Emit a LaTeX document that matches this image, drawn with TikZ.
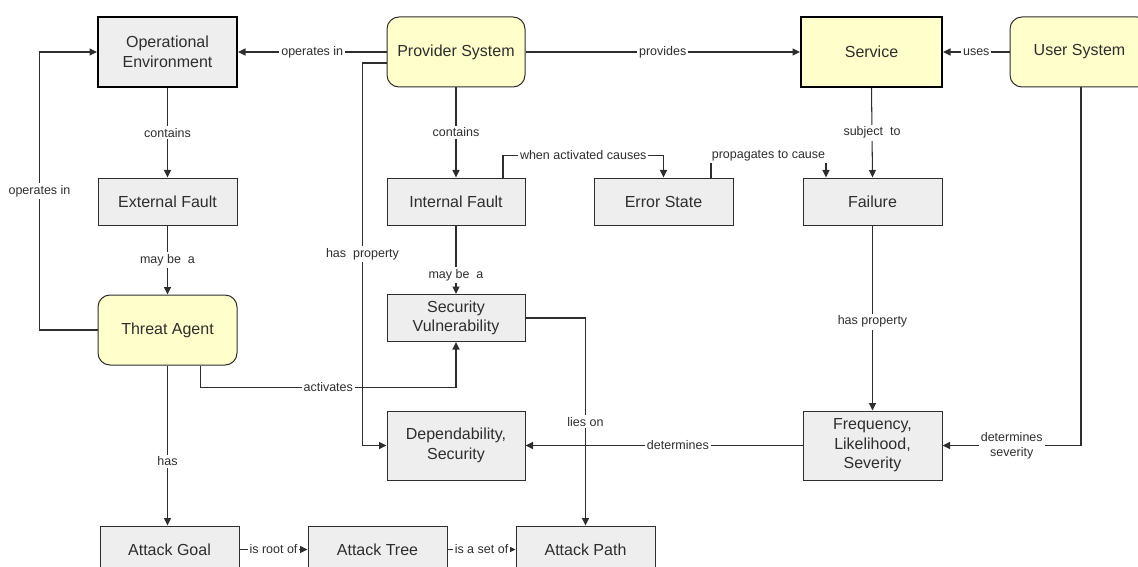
\documentclass[tikz,border=0pt]{standalone}
\usepackage{fontspec}
\setmainfont{Liberation Sans}
\usetikzlibrary{arrows.meta,calc}
\definecolor{ink}{HTML}{2E2E2E}
\definecolor{boxgray}{HTML}{EEEEEE}
\definecolor{sysyellow}{HTML}{FFFFCC}
\begin{document}
\begin{tikzpicture}[x=1pt,y=-1pt,
  box/.style={draw=ink,line width=1pt,fill=boxgray,text=ink,align=center,
    inner sep=2pt,font=\fontsize{16}{19.5}\selectfont},
  thickbox/.style={box,draw=black,line width=2pt},
  sysbox/.style={box,fill=sysyellow,rounded corners=12pt},
  conn/.style={draw=ink,line width=1.05pt,-{Triangle[length=7.5pt,width=7pt]}},
  lbl/.style={fill=white,text=ink,inner sep=2pt,align=center,
    font=\fontsize{12.5}{15}\selectfont}]
\useasboundingbox (0,0) rectangle (1138,567);
\clip (0,0) rectangle (1138,567);

% concepts
\node[thickbox,fill=boxgray,minimum width=139,minimum height=70] (OE) at (167.5,52) {Operational\\Environment};
\node[sysbox,minimum width=138,minimum height=70] (PS) at (456,52) {Provider System};
\node[thickbox,fill=sysyellow,minimum width=141,minimum height=70] (SE) at (871.5,52) {Service};
\node[sysbox,minimum width=139,minimum height=70] (US) at (1079.5,52) {User System};

\node[box,minimum width=139,minimum height=47] (EF) at (167.5,201.5) {External Fault};
\node[box,minimum width=138,minimum height=47] (IF) at (456,201.5) {Internal Fault};
\node[box,minimum width=139,minimum height=47] (ES) at (663.5,201.5) {Error State};
\node[box,minimum width=139,minimum height=47] (FA) at (872.5,201.5) {Failure};

\node[sysbox,minimum width=139,minimum height=70] (TA) at (167.5,330) {Threat Agent};
\node[box,minimum width=138,minimum height=47] (SV) at (456,318) {Security\\Vulnerability};

\node[box,minimum width=138,minimum height=69] (DS) at (456,445.5) {Dependability,\\Security};
\node[box,minimum width=139,minimum height=69] (FL) at (872.5,445.5) {Frequency,\\Likelihood,\\Severity};

\node[box,minimum width=139,minimum height=47] (AG) at (169.5,549.5) {Attack Goal};
\node[box,minimum width=139,minimum height=47] (AT) at (377.5,549.5) {Attack Tree};
\node[box,minimum width=139,minimum height=47] (AP) at (585.5,549.5) {Attack Path};

% relations along the top row
\draw[conn] (PS.west) -- node[lbl]{operates in} (OE.east);
\draw[conn] (PS.east) -- node[lbl]{provides} (SE.west);
\draw[conn] (US.west) -- node[lbl]{uses} (SE.east);

% downward relations
\draw[conn] (OE.south) -- node[lbl]{contains} (EF.north);
\draw[conn] (PS.south) -- node[lbl]{contains} (IF.north);
\draw[conn] (SE.south) -- node[lbl]{subject~ to} (FA.north);
\draw[conn] (EF.south) -- node[lbl]{may be~ a} (TA.north);
\draw[conn] (IF.south) -- node[lbl,pos=0.72]{may be~ a} (SV.north);
\draw[conn] (TA.south) -- node[lbl,pos=0.6]{has} (TA.south |- AG.north);
\draw[conn] (FA.south) -- node[lbl,pos=0.52]{has property} (FL.north);

% fault chain
\draw[conn] ([xshift=47pt]IF.north) -- ++(0,-22) -| node[lbl,pos=0.25]{when activated causes} (ES.north);
\draw[conn] ([xshift=47.5pt]ES.north) -- ++(0,-22) -| node[lbl,pos=0.25]{propagates to cause} ([xshift=-46.5pt]FA.north);

% routed relations
\draw[conn] (TA.west) -- ++(-58,0) |- node[lbl,pos=0.25]{operates in} (OE.west);
\draw[conn] ([yshift=-11pt]PS.west) -- ++(-24,0) |- node[lbl,pos=0.25]{has~ property} (DS.west);
\draw[conn] ([xshift=33pt]TA.south) -- ++(0,22) -| node[lbl,pos=0.25]{activates} (SV.south);
\draw[conn] (SV.east) -| node[lbl,pos=0.75]{lies on} (AP.north);
\draw[conn] (FL.west) -- node[lbl,pos=0.45]{determines} (DS.east);
\draw[conn] ([xshift=1.5pt]US.south) |- node[lbl,pos=0.75]{determines\\severity} (FL.east);

% attack structure
\draw[conn] (AG.east) -- node[lbl]{is root of} (AT.west);
\draw[conn] (AT.east) -- node[lbl]{is a set of} (AP.west);
\end{tikzpicture}
\end{document}
